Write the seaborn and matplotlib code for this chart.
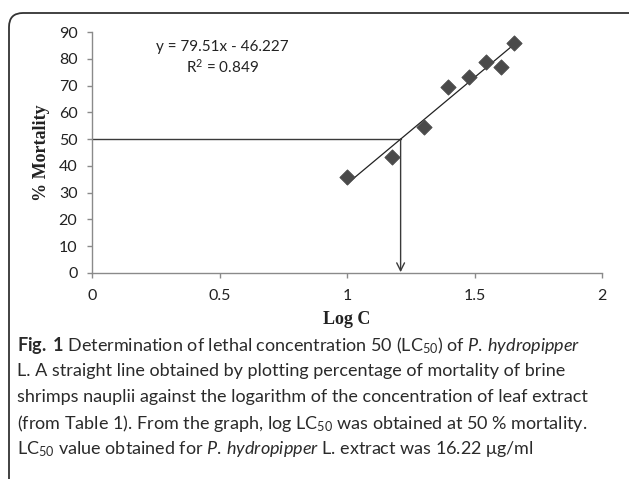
import matplotlib
matplotlib.use("Agg")
import matplotlib.pyplot as plt
import matplotlib.transforms as mtransforms
from matplotlib.patches import FancyBboxPatch
import seaborn as sns
import pandas as pd

# data
log_c = [1.0, 1.176, 1.301, 1.398, 1.477, 1.544, 1.602, 1.653]
mortality = [35.7, 43.2, 54.4, 69.5, 73.1, 78.9, 77.1, 85.9]
slope, intercept = 79.51, -46.227
r2 = 0.849
x_ticks = [0, 0.5, 1, 1.5, 2]
y_ticks = [0, 10, 20, 30, 40, 50, 60, 70, 80, 90]
target = 50

caption_lines = [
    r"$\mathbf{Fig.\;1}$ Determination of lethal concentration 50 (LC$_{50}$) of $\mathit{P.\,hydropipper}$",
    "L. A straight line obtained by plotting percentage of mortality of brine",
    "shrimps nauplii against the logarithm of the concentration of leaf extract",
    r"(from Table 1). From the graph, log LC$_{50}$ was obtained at 50 % mortality.",
    r"LC$_{50}$ value obtained for $\mathit{P.\,hydropipper}$ L. extract was 16.22 μg/ml",
]

sns.set_style("ticks")
plt.rcParams["font.family"] = ["Lato", "DejaVu Sans"]
plt.rcParams["mathtext.fontset"] = "custom"
plt.rcParams["mathtext.rm"] = "Lato"
plt.rcParams["mathtext.it"] = "Lato:italic"
plt.rcParams["mathtext.bf"] = "Lato:bold"
plt.rcParams["mathtext.default"] = "regular"

df = pd.DataFrame({"logc": log_c, "mort": mortality})
x_fit = [min(log_c), max(log_c)]
fit = pd.DataFrame({"logc": x_fit, "mort": [slope * v + intercept for v in x_fit]})
lc50 = (target - intercept) / slope

fig = plt.figure(figsize=(6.29, 4.79), dpi=100)
ax = fig.add_axes([92 / 629, 206 / 479, 510 / 629, 241 / 479])

# LC50 guide lines
ax.plot([0, lc50], [target, target], color="#3a3a3a", lw=1.0)
ax.annotate("", xy=(lc50, 0.3), xytext=(lc50, target),
            arrowprops=dict(arrowstyle="->", color="#3a3a3a", lw=1.0,
                            mutation_scale=14, shrinkA=0, shrinkB=0))

sns.lineplot(data=fit, x="logc", y="mort", color="#222222", lw=0.9, ax=ax)
sns.scatterplot(data=df, x="logc", y="mort", marker="D", s=60,
                color="#4a4a4a", edgecolor="#4a4a4a", ax=ax, zorder=3)

ax.text(0.51, 84.5, f"y = {slope}x - {abs(intercept)}", ha="center", va="center",
        fontsize=11, color="#222222")
ax.text(0.51, 77.0, f"R$^2$ = {r2}", ha="center", va="center",
        fontsize=11, color="#222222")

ax.set_xlim(0, 2)
ax.set_ylim(0, 90)
ax.set_xticks(x_ticks)
ax.set_xticklabels([f"{t:g}" for t in x_ticks])
ax.set_yticks(y_ticks)
ax.tick_params(axis="both", colors="#8a8a8a", labelcolor="#222222",
               labelsize=11.5, length=3.5, width=1)
ax.tick_params(axis="x", pad=8)
ax.tick_params(axis="y", pad=7)
for side in ["top", "right"]:
    ax.spines[side].set_visible(False)
for side in ["left", "bottom"]:
    ax.spines[side].set_color("#8a8a8a")
    ax.spines[side].set_linewidth(1)

ax.set_xlabel("Log C", family="Liberation Serif", fontweight="bold",
              fontsize=13, color="#222222", labelpad=6)
ax.set_ylabel("% Mortality", family="Liberation Serif", fontweight="bold",
              fontsize=13, color="#222222", labelpad=6)

# caption
for i, line in enumerate(caption_lines):
    fig.text(17 / 629, (479 - 345 - 26 * i) / 479, line, ha="left", va="center",
             fontsize=13, color="#2a2a2a")

# rounded frame around the figure (pixel coords, runs off the right/bottom edge)
frame = FancyBboxPatch((9, -40), 700, 506, boxstyle="round,pad=0,rounding_size=14",
                       transform=mtransforms.IdentityTransform(),
                       facecolor="none", edgecolor="#333333", lw=1.3,
                       clip_on=False)
fig.patches.append(frame)

fig.savefig("out.png", dpi=100)
